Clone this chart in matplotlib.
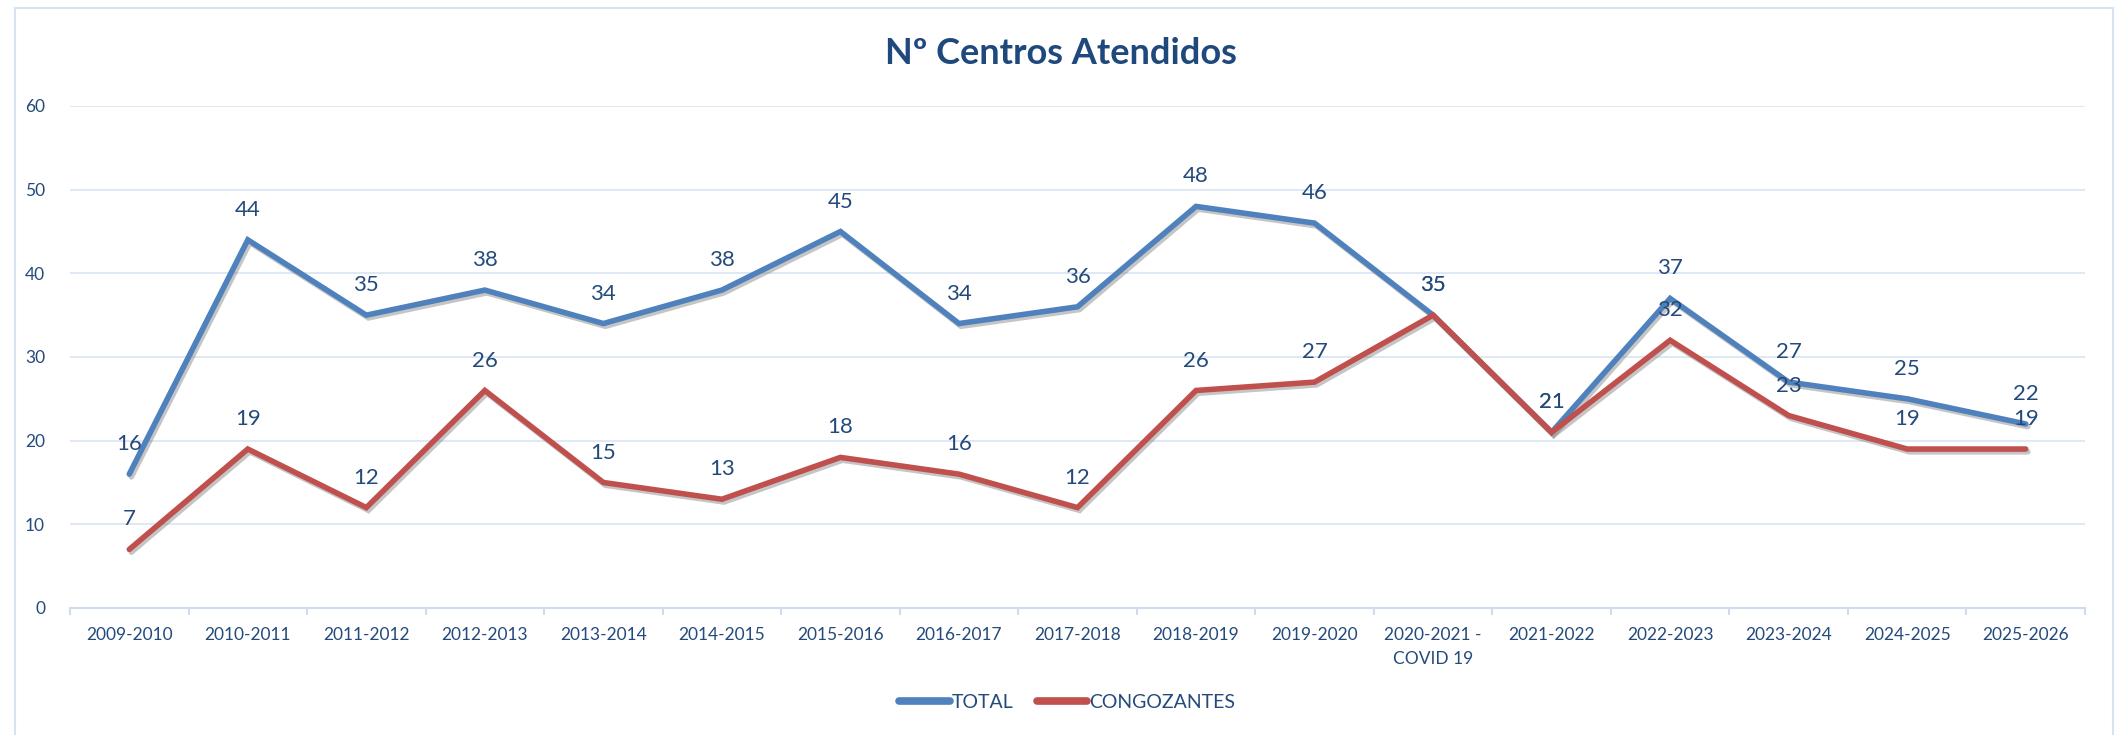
import matplotlib
matplotlib.use("Agg")
import matplotlib.pyplot as plt
import matplotlib.patheffects as pe
from matplotlib.patches import Rectangle

plt.rcParams['font.family'] = ['Lato', 'DejaVu Sans']

seasons = ["2009-2010", "2010-2011", "2011-2012", "2012-2013", "2013-2014",
           "2014-2015", "2015-2016", "2016-2017", "2017-2018", "2018-2019",
           "2019-2020", "2020-2021 -\nCOVID 19", "2021-2022", "2022-2023",
           "2023-2024", "2024-2025", "2025-2026"]
total = [16, 44, 35, 38, 34, 38, 45, 34, 36, 48, 46, 35, 21, 37, 27, 25, 22]
congozantes = [7, 19, 12, 26, 15, 13, 18, 16, 12, 26, 27, 35, 21, 32, 23, 19, 19]

BLUE = "#4F81BD"
RED = "#C0504D"
TXT = "#244A7C"
GRID = "#DCE6F4"

fig = plt.figure(figsize=(21.22, 7.35), dpi=100, facecolor="white")
# outer chart border
fig.patches.append(Rectangle((15 / 2122, -0.1), (2113 - 15) / 2122, 1 - 8 / 735 + 0.1,
                             transform=fig.transFigure, fill=False,
                             edgecolor="#D5E3F3", linewidth=1.5))

ax = fig.add_axes([70 / 2122, 1 - 608 / 735, (2085 - 70) / 2122, (608 - 106) / 735])
x = list(range(len(seasons)))

shadow = [pe.SimpleLineShadow(offset=(1.5, -2), shadow_color="gray", alpha=0.45), pe.Normal()]
ax.plot(x, total, color=BLUE, lw=4, solid_capstyle="round", solid_joinstyle="miter",
        path_effects=shadow, label="TOTAL", zorder=3)
ax.plot(x, congozantes, color=RED, lw=4, solid_capstyle="round", solid_joinstyle="miter",
        path_effects=shadow, label="CONGOZANTES", zorder=4)

for xi, v in zip(x, total):
    ax.annotate(str(v), (xi, v), xytext=(0, 23), textcoords="offset points",
                ha="center", va="center_baseline", fontsize=16, color=TXT, zorder=5)
for xi, v in zip(x, congozantes):
    ax.annotate(str(v), (xi, v), xytext=(0, 23), textcoords="offset points",
                ha="center", va="center_baseline", fontsize=16, color=TXT, zorder=5)

ax.set_xlim(-0.5, len(seasons) - 0.5)
ax.set_ylim(0, 60)
ax.set_yticks(range(0, 61, 10))
ax.grid(axis="y", color=GRID, lw=1.3)
ax.set_axisbelow(True)

for s in ["top", "right", "left"]:
    ax.spines[s].set_visible(False)
ax.spines["bottom"].set_color("#CFDCEE")
ax.spines["bottom"].set_linewidth(1.5)

ax.set_xticks(x)
ax.set_xticklabels(seasons, fontsize=12.5, color=TXT, linespacing=1.6)
ax.set_xticks([i - 0.5 for i in range(len(seasons) + 1)], minor=True)
ax.tick_params(axis="x", which="major", length=0, pad=14)
ax.tick_params(axis="x", which="minor", length=5, color="#CFDCEE", width=1.5)
ax.tick_params(axis="y", length=0, pad=18, labelsize=12.5, labelcolor=TXT)

fig.text(0.5, 1 - 54 / 735, "Nº Centros Atendidos", ha="center", va="center",
         fontsize=26, fontweight="bold", color="#1F497D")

leg = fig.legend(loc="center", bbox_to_anchor=(1067 / 2122, 1 - 702 / 735), ncol=2,
                 frameon=False, fontsize=14, handlelength=2.6, handletextpad=0.1,
                 columnspacing=1.2)
for t in leg.get_texts():
    t.set_color(TXT)
for h in leg.get_lines():
    h.set_linewidth(5.5)
    h.set_solid_capstyle("round")
    h.set_path_effects([])

fig.savefig("out.png", dpi=100, facecolor="white")
